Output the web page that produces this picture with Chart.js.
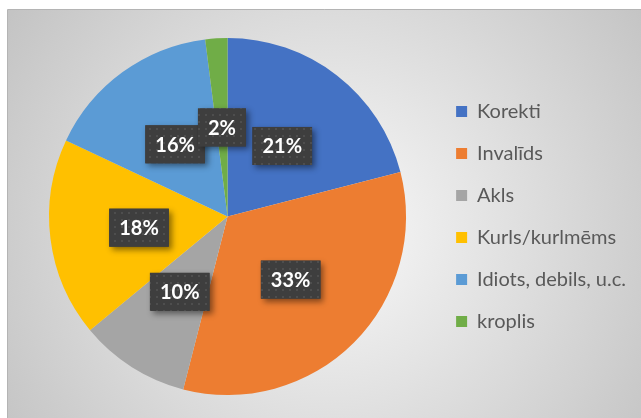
<!DOCTYPE html>
<html>
<head>
<meta charset="utf-8">
<script src="https://cdn.jsdelivr.net/npm/chart.js@4"></script>
<style>
  html, body { margin: 0; padding: 0; background: #fff; }
  #wrap { width: 641px; height: 418px; }
</style>
</head>
<body>
<div id="wrap"><canvas id="pieChart" width="641" height="418"></canvas></div>
<script>
const categories = ["Korekti", "Invalīds", "Akls", "Kurls/kurlmēms", "Idiots, debils, u.c.", "kroplis"];
const shares = [21, 33, 10, 18, 16, 2];
const sliceColors = ["#4472C4", "#ED7D31", "#A5A5A5", "#FFC000", "#5B9BD5", "#70AD47"];

// grey panel behind the chart
const panelBg = {
  id: "panelBg",
  beforeDraw(chart) {
    const ctx = chart.ctx;
    const w = chart.width, h = chart.height;
    ctx.save();
    ctx.fillStyle = "#fff";
    ctx.fillRect(0, 0, w, h);
    const g = ctx.createRadialGradient(330, 230, 10, 330, 230, 400);
    g.addColorStop(0, "#f8f8f8");
    g.addColorStop(1, "#c2c2c2");
    ctx.fillStyle = g;
    ctx.fillRect(8, 9, w - 8, h - 9);
    ctx.strokeStyle = "#b4b4b4";
    ctx.lineWidth = 1;
    ctx.beginPath();
    ctx.moveTo(7.5, h);
    ctx.lineTo(7.5, 9.5);
    ctx.lineTo(w, 9.5);
    ctx.stroke();
    ctx.restore();
  }
};

function dotPattern(ctx) {
  const c = document.createElement("canvas");
  c.width = 7; c.height = 7;
  const p = c.getContext("2d");
  p.fillStyle = "#3e3e3e";
  p.fillRect(0, 0, 7, 7);
  p.fillStyle = "#4e4e4e";
  p.fillRect(2, 2, 2, 2);
  return ctx.createPattern(c, "repeat");
}

// dark percentage boxes in the middle of each slice
const sliceLabels = {
  id: "sliceLabels",
  afterDatasetsDraw(chart) {
    const ctx = chart.ctx;
    const meta = chart.getDatasetMeta(0);
    const data = chart.data.datasets[0].data;
    const total = data.reduce((a, b) => a + b, 0);
    const pattern = dotPattern(ctx);
    ctx.save();
    ctx.font = "bold 20px Lato";
    ctx.textAlign = "center";
    ctx.textBaseline = "middle";
    meta.data.forEach((arc, i) => {
      const pos = arc.tooltipPosition();
      const txt = Math.round(data[i] / total * 100) + "%";
      const bw = ctx.measureText(txt).width + 20;
      const bh = 38;
      const x = pos.x - bw / 2, y = pos.y - bh / 2;
      ctx.save();
      ctx.shadowColor = "rgba(0,0,0,0.45)";
      ctx.shadowBlur = 6;
      ctx.shadowOffsetX = 3;
      ctx.shadowOffsetY = 3;
      ctx.fillStyle = "#3e3e3e";
      ctx.fillRect(x, y, bw, bh);
      ctx.restore();
      ctx.fillStyle = pattern;
      ctx.fillRect(x, y, bw, bh);
      ctx.fillStyle = "#fff";
      ctx.fillText(txt, pos.x, pos.y + 1);
    });
    ctx.restore();
  }
};

const ctx = document.getElementById("pieChart").getContext("2d");
const chart = new Chart(ctx, {
  type: "pie",
  data: {
    labels: categories,
    datasets: [{
      data: shares,
      backgroundColor: sliceColors,
      borderWidth: 0
    }]
  },
  options: {
    responsive: false,
    animation: false,
    layout: {
      padding: { top: 38, bottom: 23, left: 21, right: 5 }
    },
    plugins: {
      tooltip: { enabled: false },
      legend: {
        position: "right",
        labels: {
          boxWidth: 11,
          boxHeight: 11,
          padding: 22,
          color: "#595959",
          font: { family: "Lato", size: 20 }
        }
      }
    }
  },
  plugins: [panelBg, sliceLabels]
});
</script>
</body>
</html>
